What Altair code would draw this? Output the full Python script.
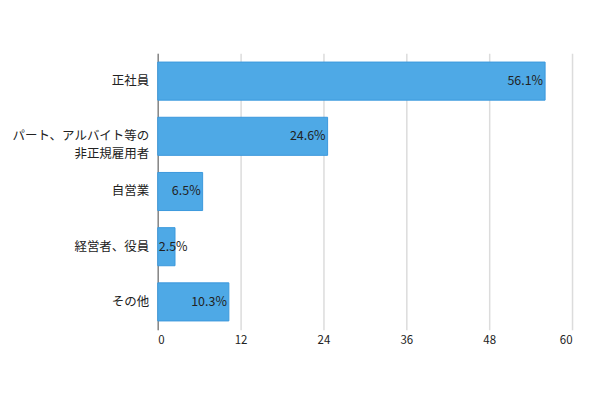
import altair as alt
import pandas as pd

categories = ["正社員", "パート、アルバイト等の\n非正規雇用者", "自営業", "経営者、役員", "その他"]
values = [56.1, 24.6, 6.5, 2.5, 10.3]
labels = ["56.1%", "24.6%", "6.5%", "2.5%", "10.3%"]
x_ticks = [0, 12, 24, 36, 48, 60]

df = pd.DataFrame({"cat": categories, "val": values, "lab": labels})
FONT = "Noto Sans CJK JP"

y = alt.Y("cat:N", sort=categories, title=None,
          scale=alt.Scale(paddingInner=0.31, paddingOuter=0.16),
          axis=alt.Axis(labelExpr="split(datum.label, '\\n')", labelFontSize=12.5,
                        labelColor="#222", labelFont=FONT, ticks=False, labelPadding=9,
                        domainColor="#888", domainWidth=1.5, labelLineHeight=18))
x = alt.X("val:Q", title=None,
          scale=alt.Scale(domain=[0, 60], nice=False),
          axis=alt.Axis(values=x_ticks, grid=True, gridColor="#dcdcdc", gridWidth=1.5,
                        domain=False, ticks=False, labelFontSize=11.5, labelColor="#222",
                        labelFont=FONT, labelPadding=5))

bars = alt.Chart(df).mark_bar(color="#4ea9e6", stroke="#3b99dd", strokeWidth=1).encode(x=x, y=y)
text_in = alt.Chart(df).transform_filter("datum.val >= 5").mark_text(
    align="right", dx=-2, fontSize=12.5, color="#222", font=FONT).encode(
    x="val:Q", y=alt.Y("cat:N", sort=categories), text="lab:N")
text_small = alt.Chart(df).transform_filter("datum.val < 5").mark_text(
    align="left", dx=1, fontSize=12.5, color="#222", font=FONT).encode(
    x=alt.datum(0), y=alt.Y("cat:N", sort=categories), text="lab:N")

chart = (bars + text_in + text_small).properties(
    width=415, height=277,
    autosize=alt.AutoSizeParams(type="none"),
    padding={"left": 150, "top": 45, "right": 20, "bottom": 50},
    background="white",
).configure_view(stroke=None)

chart.save("out.html", embed_options={"renderer": "svg", "actions": False})
